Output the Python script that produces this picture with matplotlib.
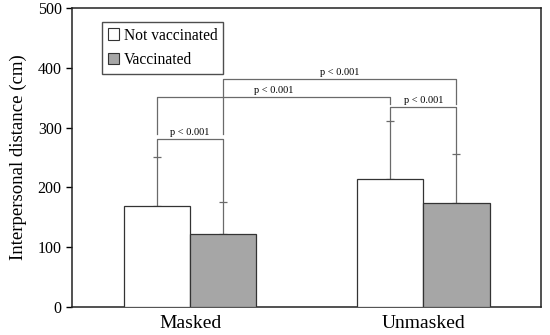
import matplotlib
matplotlib.use("Agg")
import matplotlib.pyplot as plt
from matplotlib.patches import Patch
import numpy as np

plt.rcParams['font.family'] = ['Liberation Serif', 'DejaVu Serif']

groups = ["Masked", "Unmasked"]
not_vacc = [168, 214]
not_vacc_sd = [83, 97]
vacc = [122, 173]
vacc_sd = [54, 83]

# significance brackets: (x1, x2, height, left leg end, right leg end)
brackets = [
    (0, 1, 281, 251, 176),
    (2, 3, 334, 311, 256),
    (0, 2, 351, 290, 340),
    (1, 3, 381, 290, 340),
]
p_label = "p < 0.001"

fig = plt.figure(figsize=(5.5, 3.35), dpi=100)
ax = fig.add_axes([0.131, 0.084, 0.853, 0.892])

x = np.arange(len(groups))
w = 0.285
linecol = "#6a6a6a"
ax.bar(x - w/2, not_vacc, w, color="white", edgecolor="#333333", linewidth=0.9, zorder=3)
ax.bar(x + w/2, vacc, w, color="#a6a6a6", edgecolor="#333333", linewidth=0.9, zorder=3)
ax.errorbar(x - w/2, not_vacc, yerr=[np.zeros(2), not_vacc_sd], fmt="none",
            ecolor=linecol, elinewidth=0.9, capsize=3, capthick=0.9, zorder=2)
ax.errorbar(x + w/2, vacc, yerr=[np.zeros(2), vacc_sd], fmt="none",
            ecolor=linecol, elinewidth=0.9, capsize=3, capthick=0.9, zorder=2)

pos = [x[0] - w/2, x[0] + w/2, x[1] - w/2, x[1] + w/2]
for i1, i2, h, l1, l2 in brackets:
    ax.plot([pos[i1], pos[i1], pos[i2], pos[i2]], [l1, h, h, l2],
            color=linecol, linewidth=0.9, zorder=2)
    ax.text((pos[i1] + pos[i2]) / 2, h + 4, p_label, ha="center", va="bottom",
            fontsize=7.5)

ax.set_xlim(-0.506, 1.506)
ax.set_ylim(0, 500)
ax.set_yticks(range(0, 501, 100))
ax.set_xticks(x)
ax.set_xticklabels(groups, fontsize=14)
ax.tick_params(axis="x", length=0, pad=6)
ax.tick_params(axis="y", labelsize=11.5, direction="out", length=4, width=1)
ax.set_ylabel("Interpersonal distance (cm)", fontsize=13.5, labelpad=8)
for s in ax.spines.values():
    s.set_linewidth(1.1)
    s.set_color("#222222")

handles = [Patch(facecolor="white", edgecolor="#333333", linewidth=0.8),
           Patch(facecolor="#a6a6a6", edgecolor="#333333", linewidth=0.8)]
leg = ax.legend(handles, ["Not vaccinated", "Vaccinated"], loc="upper left",
                bbox_to_anchor=(0.064, 0.953), borderaxespad=0, fontsize=11.2,
                fancybox=False, edgecolor="#222222", handlelength=0.75,
                handleheight=0.75, handletextpad=0.3, labelspacing=0.55,
                borderpad=0.35)
leg.get_frame().set_linewidth(1.0)

fig.savefig("out.png", dpi=100)
